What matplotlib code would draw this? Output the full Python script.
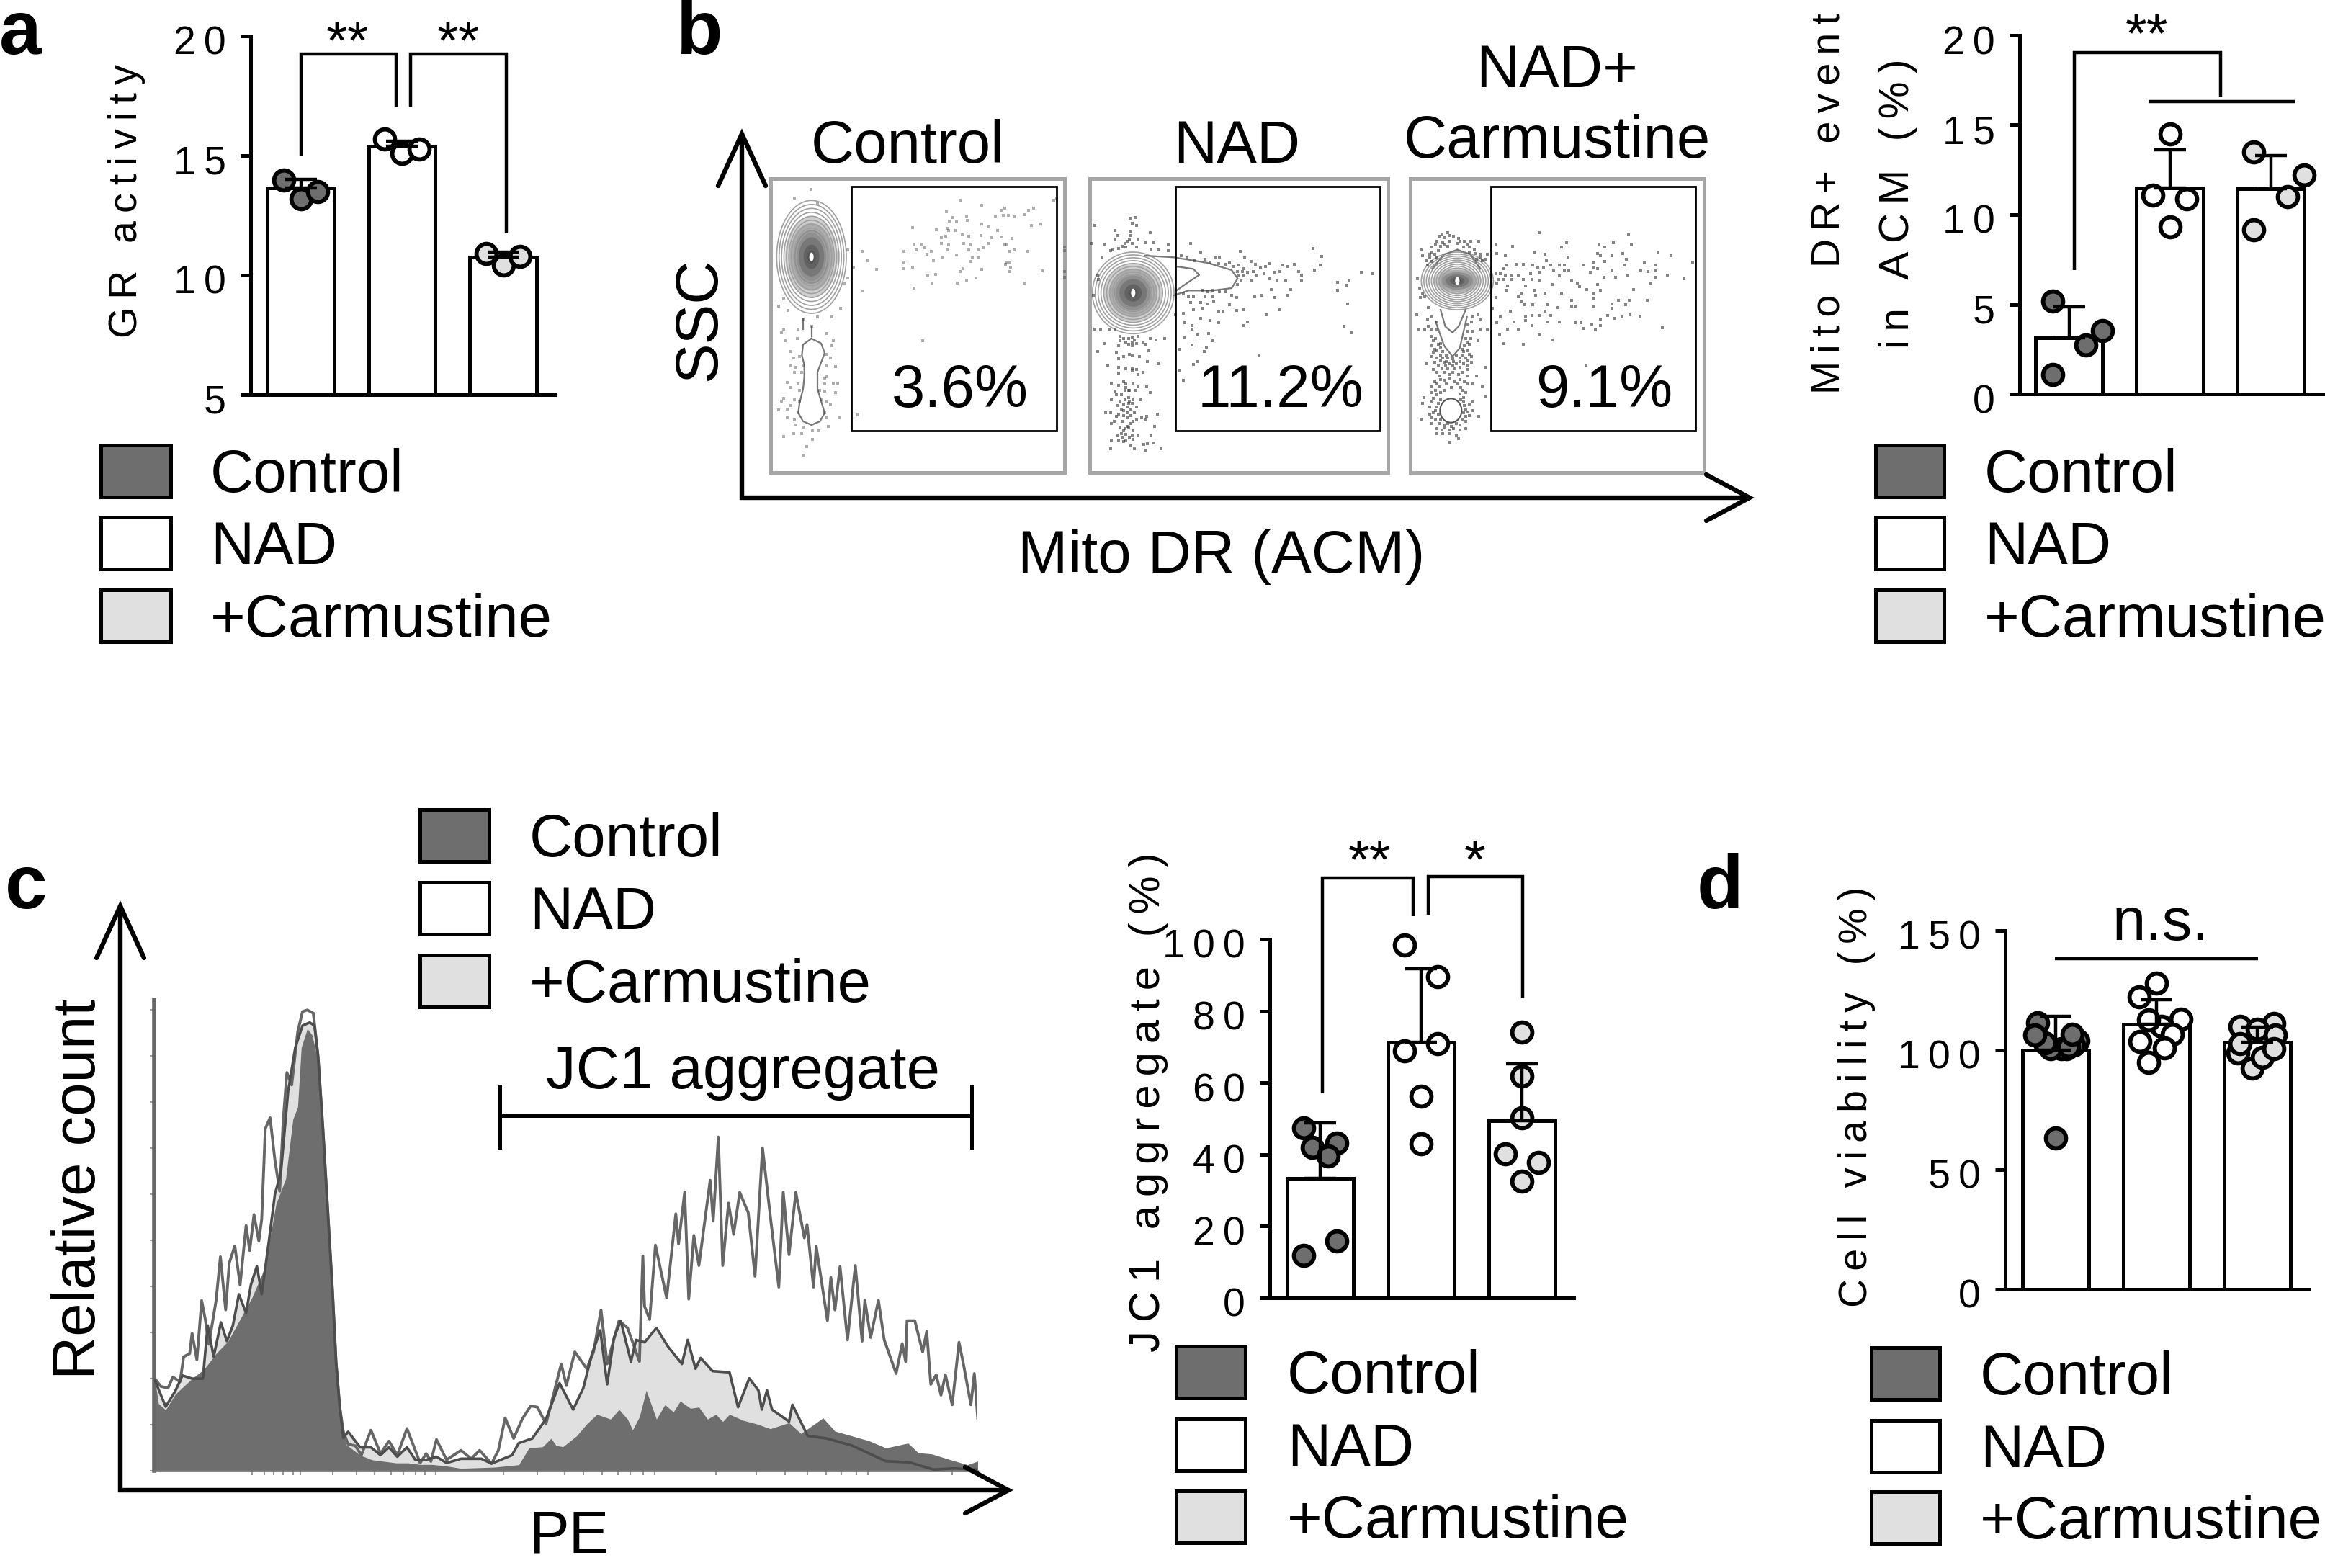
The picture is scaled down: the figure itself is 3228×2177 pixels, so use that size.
import numpy as np
import matplotlib
matplotlib.use('Agg')
import matplotlib.pyplot as plt
from matplotlib.patches import Ellipse, Rectangle
from matplotlib.transforms import ScaledTranslation

plt.rcParams['font.family'] = ['Liberation Sans', 'DejaVu Sans']

W, H = 3228, 2177
DARK, LIGHT = '#6e6e6e', '#e0e0e0'
GROUP_COLORS = [DARK, 'white', LIGHT]
LEGEND_LABELS = ['Control', 'NAD', '+Carmustine']

# panel a
a_means = [13.63, 15.4, 10.75]
a_tops = [14.0, 15.6, 10.96]
a_points = [[(-.17, 13.99), (0, 13.2), (.17, 13.5)],
            [(-.17, 15.68), (0, 15.1), (.17, 15.28)],
            [(-.17, 10.9), (0, 10.41), (.17, 10.78)]]
# panel b bars
b_means = [3.15, 11.47, 11.44]
b_tops = [4.87, 13.6, 13.3]
b_points = [[(-.16, 5.2), (.167, 2.73), (.33, 3.53), (-.16, 1.1)],
            [(0, 14.5), (-.17, 11.1), (.17, 10.9), (0, 9.3)],
            [(-.17, 13.5), (.33, 12.2), (.17, 11.0), (-.17, 9.15)]]
# panel c bars
c_means = [33.4, 71.3, 49.3]
c_tops = [48.7, 91.7, 65.2]
c_points = [[(-.164, 47.4), (.164, 43.2), (-.08, 42), (.08, 39.5), (.164, 15.8), (-.164, 11.9)],
            [(-.164, 98.4), (.164, 89.5), (.164, 70.9), (-.164, 68.9), (0, 56.3), (0, 42.9)],
            [(0, 74.1), (0, 61.9), (0, 50.2), (-.164, 40.2), (.164, 37.7), (0, 32.5)]]
# panel d
d_means = [99.9, 110.7, 103.2]
d_tops = [114.3, 121.2, 109.6]
d_points = [[(.22, 104), (.18, 102), (.11, 100.5), (.06, 100.7), (-.05, 100.7), (.125, 101.5), (-.11, 103),
             (-.18, 111.4), (-.21, 106.2), (.166, 106.7), (0, 63.2)],
            [(.05, 110), (0, 128), (-.17, 122.4), (.245, 113.1), (.16, 106.7), (.075, 100.9), (-.165, 103.6),
             (-.08, 94.9), (-.08, 112.8)],
            [(-.05, 92.6), (-.19, 98.7), (-.17, 109.9), (.166, 111), (0, 108.6), (.175, 106.2),
             (.05, 96.9), (-.17, 102.7), (.166, 100.7)]]

# flow plots, dots
flow1_dots = [(805,115),(895,135),(1195,115),(1205,105),(1110,148),(1090,155),(1070,175),(990,148),(975,155),
    (985,178),(950,180),(1005,178),(1030,183),(748,163),(830,180),(835,198),(775,185),(760,200),(790,205),(895,213),
    (925,225),(960,240),(1100,220),(1140,213),(605,228),(705,237),(750,230),(755,240),(785,240),(840,265),(812,258),
    (890,260),(935,270),(975,268),(1020,272),(725,270),(745,265),(612,300),(645,297),(725,295),(755,300),(820,295),
    (845,300),(925,295),(990,300),(1000,298),(620,320),(658,312),(750,320),(840,320),(880,320),(900,312),(1030,320),
    (1010,328),(1085,328),(397,328),(570,328),(685,328),(665,338),(730,350),(790,343),(855,355),(878,355),(420,365),
    (692,365),(850,370),(570,375),(605,393),(568,400),(455,403),(360,393),(1000,375),(1012,375),(992,380),(1015,392),
    (1010,412),(815,400),(805,410),(895,403),(1145,408),(668,430),(703,423),(870,437),(830,447),(688,463),(793,460),
    (1070,460),(612,480),(400,492),(648,698),(378,1008),(183,68),(115,105),(210,125),(1238,310),(1238,325),(1238,410),
    (1238,435),(335,320),(335,437),(323,463),(305,563),(70,525),(48,555),(88,573),(150,610),(210,600),(270,600),
    (185,640),(68,650),(60,665),(130,650),(75,700),(125,690),(250,668),(275,700),(270,720),(100,745),(110,770),
    (135,765),(250,755),(265,770),(100,805),(120,810),(150,800),(245,805),(285,808),(115,830),(145,830),(240,855),
    (250,850),(85,872),(130,880),(240,880),(275,875),(295,875),(100,895),(135,905),(220,905),(240,910),(285,915),
    (70,940),(115,945),(135,950),(225,945),(245,955),(60,950),(100,970),(265,965),(48,988),(85,985),(130,1000),
    (240,1000),(85,1020),(115,1030),(250,1020),(300,1020),(120,1050),(150,1060),(255,1055),(110,1085),(145,1085),
    (190,1075),(215,1075),(70,1097),(190,1110),(165,1140),(152,1178)]
flow2_dots = [(198,185),(178,190),(185,210),(205,218),(30,220),(115,240),(178,245),(262,248),(125,260),(180,262),
    (210,275),(115,275),(165,285),(185,295),(145,305),(240,292),(15,293),(68,300),(275,290),(335,300),(105,320),
    (130,315),(160,310),(205,310),(265,320),(295,320),(335,325),(60,350),(95,325),(42,430),(45,445),(25,510),(30,650),
    (55,655),(90,650),(115,655),(70,710),(42,745),(135,680),(185,685),(210,680),(285,695),(135,700),(160,705),(185,705),
    (205,710),(230,705),(260,690),(320,690),(130,720),(185,720),(240,715),(255,740),(120,750),(150,765),(175,755),
    (185,760),(215,765),(130,775),(250,785),(295,795),(85,800),(130,810),(160,815),(185,815),(205,820),(230,830),
    (130,835),(210,840),(150,870),(190,880),(210,890),(100,875),(130,885),(160,895),(245,890),(115,910),(155,905),
    (200,905),(260,915),(120,925),(170,935),(190,945),(220,945),(100,945),(135,950),(150,965),(170,960),(185,960),
    (125,970),(205,975),(140,985),(180,985),(75,1000),(95,1000),(130,1005),(150,1010),(180,1010),(225,1020),(245,1015),
    (290,1005),(110,1035),(145,1035),(205,1030),(240,1030),(100,1045),(165,1055),(150,1075),(140,1085),(170,1060),
    (190,1075),(280,1055),(125,1095),(185,1095),(210,1095),(265,1095),(100,1115),(130,1115),(160,1115),(190,1110),
    (235,1130),(180,1138),(250,1128),(275,1125),(95,1150),(195,1150),(240,1155),(305,1150),(430,293),(470,330),(635,328),
    (390,345),(415,355),(445,365),(490,360),(510,372),(530,355),(550,350),(545,378),(575,380),(590,375),(610,390),
    (630,385),(655,355),(650,400),(680,370),(700,380),(720,395),(740,390),(755,378),(625,410),(645,410),(665,415),
    (690,410),(705,425),(735,420),(760,440),(780,415),(800,410),(810,385),(835,390),(860,380),(880,410),(890,425),
    (630,430),(650,430),(640,450),(625,465),(680,450),(790,450),(825,450),(890,450),(765,485),(845,485),(940,315),
    (975,348),(970,385),(945,405),(1140,415),(1188,420),(1040,455),(1090,450),(1078,468),(1042,488),(1082,545),
    (1068,640),(1097,665),(800,570),(745,590),(400,505),(420,515),(440,515),(480,490),(500,495),(520,490),(550,495),
    (575,495),(600,510),(620,520),(490,515),(520,515),(430,540),(470,540),(500,545),(525,535),(590,550),(400,585),
    (440,570),(480,565),(565,575),(620,572),(650,570),(545,580),(365,590),(470,605),(510,615),(545,625),(405,625),
    (435,635),(435,650),(650,635),(665,620),(460,675),(505,670),(405,685),(520,700),(435,718),(495,725),(385,735),
    (485,745),(715,758),(455,785),(440,798),(385,825),(398,865),(695,515),(725,510),(780,520),(835,510),
    # thick parts of the lower cluster
    (160,880),(175,905),(140,925),(155,945),(175,950),(165,975),(150,990),(165,1000),(195,1000),(120,1015),(165,1020),
    (190,1035),(135,1060),(155,1065),(180,1045),(160,1090),(145,1100),(175,1105),(150,1120),(170,905),(185,825),(170,715),
    (195,695),(170,690),(150,690),(175,280),(155,295)]
flow3_dots = [(165,250),(130,265),(150,270),(190,265),(210,272),(120,285),(145,290),(170,285),(205,295),(235,285),
    (260,285),(295,285),(100,310),(135,305),(165,305),(230,310),(255,310),(55,320),(95,330),(125,325),(255,330),(280,335),
    (300,340),(60,345),(90,355),(120,350),(285,360),(310,365),(330,340),(100,370),(80,385),(40,440),(48,480),(60,505),
    (70,515),(50,520),(85,560),(35,590),(80,610),(100,600),(290,590),(270,600),(300,610),(45,655),(70,655),(85,640),
    (120,620),(95,650),(120,650),(250,630),(265,620),(250,660),(270,660),(300,650),(330,655),(95,680),(115,690),(135,710),
    (240,690),(260,690),(235,720),(100,720),(120,740),(145,745),(230,745),(250,740),(290,700),(95,765),(120,770),(145,770),
    (165,770),(185,775),(215,770),(240,770),(265,765),(75,795),(110,790),(150,790),(175,795),(200,795),(230,795),(265,790),
    (105,820),(140,815),(165,815),(195,815),(250,820),(320,810),(130,845),(170,840),(210,840),(250,845),(285,845),(110,870),
    (150,865),(195,870),(235,870),(270,880),(95,890),(130,890),(180,895),(220,895),(310,890),(100,915),(135,915),(215,920),
    (240,915),(320,930),(65,935),(105,940),(135,945),(220,945),(270,955),(60,960),(90,975),(120,975),(235,970),(270,990),
    (105,1000),(125,1005),(230,1000),(250,995),(55,1025),(100,1020),(135,1030),(225,1025),(295,1015),(100,1045),(130,1045),
    (165,1045),(200,1045),(240,1035),(120,1065),(150,1060),(190,1065),(240,1065),(120,1085),(170,1085),(200,1095),(210,1108),
    (175,1122),(545,250),(918,258),(660,290),(795,300),(855,290),(930,300),(365,300),(435,305),(820,310),(640,310),(525,330),
    (790,335),(800,345),(850,345),(895,335),(1040,330),(1095,345),(405,345),(570,340),(665,352),(910,360),(370,335),(1185,372),
    (985,372),(1030,385),(730,385),(900,385),(770,375),(820,370),(575,365),(595,385),(630,385),(650,385),(410,385),(450,380),
    (480,380),(520,385),(400,400),(540,395),(565,395),(605,405),(650,405),(670,405),(770,395),(790,400),(850,405),(970,405),
    (1000,412),(1030,405),(1080,425),(365,420),(385,420),(405,425),(430,430),(460,430),(510,420),(545,415),(630,430),(760,415),
    (815,435),(865,435),(915,425),(1030,435),(1150,442),(375,445),(400,445),(430,445),(480,445),(515,445),(550,450),(600,465),
    (680,450),(705,460),(790,465),(1010,460),(370,460),(415,470),(490,470),(715,475),(940,485),(410,490),(525,490),(570,500),
    (800,490),(745,485),(470,500),(640,500),(770,500),(365,520),(460,515),(530,510),(680,530),(770,525),(875,530),(920,530),
    (995,530),(470,535),(850,545),(905,550),(485,550),(520,550),(580,550),(625,560),(680,555),(695,555),(770,555),(850,565),
    (425,575),(570,575),(350,565),(830,595),(860,605),(890,600),(925,590),(965,600),(385,600),(490,600),(515,595),(545,595),
    (595,595),(630,620),(370,625),(440,620),(490,615),(580,620),(800,610),(695,625),(720,625),(765,630),(800,635),(515,635),
    (415,650),(460,650),(730,648),(780,655),(1060,645),(545,675),(380,675),(600,695),(400,712),(480,715),(740,800),
    # thick parts of the cone and the lower loop
    (140,255),(175,260),(115,300),(150,300),(215,285),(245,300),(275,320),(90,340),(75,365),(110,340),(300,355),(320,360),
    (105,700),(125,715),(110,735),(135,730),(245,705),(225,735),(255,715),(105,750),(135,760),(160,760),(200,760),(225,760),
    (255,755),(135,780),(160,785),(190,785),(215,785),(245,780),(125,800),(155,805),(185,805),(215,810),(245,805),(120,830),
    (150,830),(185,830),(225,830),(135,860),(170,855),(215,860),(120,880),(160,880),(205,880),(245,880),(115,905),(150,905),
    (225,905),(120,925),(230,935),(95,955),(125,960),(230,955),(255,965),(115,990),(240,985),(90,1005),(255,1010),(115,1030),
    (240,1015),(150,1050),(180,1055),(215,1050),(140,1070),(170,1070),(215,1070),(145,1085)]

# contour lines of the flow plots
flow1_lines = [[(185,690),(150,715),(145,760),(155,800),(155,850),(150,900),(135,960),(130,1000),(150,1035),(185,1050),
                (220,1035),(240,1000),(225,950),(210,900),(210,830),(225,790),(240,750),(225,710),(185,690)],
               [(150,610),(150,650)], [(185,640),(185,680)]]
flow2_lines = [[(240,345),(360,352),(500,375),(600,405),(625,440),(600,480),(520,490),(420,490),(360,510)],
               [(370,390),(440,400),(465,425),(420,455),(370,490)]]
flow3_lines = [[(135,570),(155,640),(185,665),(210,640),(240,570)],
               [(115,620),(150,720),(185,765),(215,730),(245,600)],
               [(205,320),(150,340),(100,400)], [(205,320),(260,340),(300,400)]]
# ring centres and half axes: cx, cy, half width, half height
flow1_ring = (185, 350, 145, 235)
flow2_ring = (190, 500, 170, 170)
flow3_ring = (205, 450, 150, 120)
ring_scales = [1, .93, .86, .79, .72, .65, .58, .51, .44]
# half axes of the dark middle of each plot
flow1_core = (110, 170)
flow2_core = (120, 120)
flow3_core = (100, 55)
density_scales = [1, .83, .66, .48, .3, .16]
density_grays = ['#cfcfcf', '#adadad', '#909090', '#787878', '#626262', '#555555']
flow3_low_ring = (178, 990, 45, 50)

left_x = [45,60,90,130,200,250,300,350,400,450,500,520,550,590,620,640,655,680,700,720,740,760,780,800,820,840,
          900,950,1000,1050,1100,1150,1200,1260]
left_control = [1230,1310,1330,1280,1230,1200,1150,1110,1040,970,880,800,670,590,400,360,170,110,130,200,420,620,
                900,1180,1340,1440,1475,1490,1495,1500,1500,1505,1505,1510]
left_nad_x = [45,70,100,120,150,165,190,200,220,240,255,270,300,318,340,355,378,400,425,440,458,478,490,505,525,545,
              565,580,595,615,640,660,680,705,725,745,765,785,800,815,830,850,880,905,945,985,1020,1055,1095,1130,
              1150,1175,1195,1218,1260]
left_nad = [1230,1255,1260,1225,1240,1160,1150,1085,1170,980,1040,1120,980,840,1010,860,805,930,740,820,705,790,720,
            430,395,530,630,400,250,290,120,55,50,60,200,430,690,950,1180,1320,1400,1440,1445,1475,1395,1470,1430,
            1475,1390,1460,1500,1470,1495,1425,1490]
left_carm_x = [45,90,130,160,200,245,265,290,320,345,370,395,425,445,470,490,520,545,570,600,630,660,690,710,725,745,
               765,785,800,815,830,850,900,945,985,1020,1055,1095,1130,1175,1218,1260]
left_carm = [1235,1320,1270,1220,1230,1230,1060,1160,1050,1110,1060,960,1020,930,870,960,790,640,570,310,170,100,90,
             100,200,430,690,950,1180,1320,1420,1400,1450,1450,1475,1450,1480,1450,1490,1490,1480,1500]
right_control_x = [0,100,170,200,240,265,280,300,340,370,400,440,465,490,505,525,545,575,600,625,645,675,700,725,750,
                   770,790,830,870,910,965,1000,1065,1100,1150,1200,1250,1315,1345,1385,1430,1490,1520]
right_control = [1435,1430,1420,1350,1345,1310,1340,1345,1300,1250,1210,1230,1190,1230,1275,1220,1110,1230,1170,1200,
                 1155,1185,1180,1230,1210,1240,1210,1235,1250,1270,1245,1290,1225,1280,1300,1320,1350,1330,1370,1375,
                 1395,1420,1405]
right_nad_x = [0,30,55,90,110,130,155,180,205,225,250,270,295,310,335,370,390,412,430,465,490,525,535,540,555,572,605,
               632,640,658,670,685,700,733,742,757,770,787,802,820,845,865,887,912,935,948,965,985,1010,1018,1037,1045,
               1078,1088,1100,1115,1137,1160,1180,1188,1205,1228,1245,1280,1298,1308,1312,1335,1358,1370,1382,1398,1412,
               1425,1445,1465,1478,1500,1510,1520]
right_nad = [1360,1395,1360,1415,1360,1225,1310,1230,1175,1180,1250,1140,1000,1090,950,1020,950,775,1000,820,850,990,550,
             760,815,505,725,375,500,285,730,465,590,235,405,55,590,330,460,285,370,635,100,410,680,285,545,285,475,420,
             680,510,820,640,775,595,900,590,905,735,890,735,900,1040,915,990,820,820,950,865,1085,1045,1130,1045,1170,
             910,1000,1170,1040,1225]
right_carm_x = [0,60,90,150,170,210,250,290,330,360,385,410,430,450,470,500,515,540,575,610,650,667,690,705,740,790,815,
                848,875,885,900,915,965,975,1020,1075,1150,1250,1320,1390,1450,1520]
right_carm = [1395,1395,1415,1380,1330,1310,1230,1080,1190,1100,960,860,1085,890,820,990,900,910,850,930,1000,900,1020,
              975,1030,1035,1180,1060,1110,1190,1110,1190,1240,1170,1300,1310,1340,1405,1410,1440,1435,1440]
hist_xticks = [350,367,380,393,407,417,462,495,520,543,560,577,590,605,699,746,784,810,836,858,875,893,909,994,1050,1090,
               1121,1147,1168,1189,1205,1322]

fig = plt.figure(figsize=(W / 100, H / 100), dpi=100, facecolor='white')


def add_px_axes(x0, y0, x1, y1, **kw):
    return fig.add_axes([x0 / W, 1 - y1 / H, (x1 - x0) / W, (y1 - y0) / H], **kw)


def spaced(s):
    return '\u2009'.join(s)


def bar_panel(box, ylim, ticks, c0, step, means, tops, points):
    x0, y0, x1, y1 = box
    ax = add_px_axes(x0, y0, x1, y1)
    ax.set_xlim((x0 - c0) / step, (x1 - c0) / step)
    ax.set_ylim(*ylim)
    ax.patch.set_alpha(0)
    for s in ['top', 'right']:
        ax.spines[s].set_visible(False)
    for s in ['left', 'bottom']:
        ax.spines[s].set_linewidth(3.6)
    for i in range(3):
        ax.bar(i, means[i] - ylim[0], bottom=ylim[0], width=.66, facecolor='white',
               edgecolor='black', linewidth=3.6, zorder=2)
        xs = [i + p[0] for p in points[i]]
        ys = [p[1] for p in points[i]]
        ax.scatter(xs, ys, s=400, facecolor=GROUP_COLORS[i], edgecolor='black',
                   linewidth=4.2, clip_on=False, zorder=3)
        ax.errorbar(i, means[i], yerr=[[0], [tops[i] - means[i]]], color='black', elinewidth=3.2,
                    capsize=16, capthick=3.2, clip_on=False, zorder=4)
    ax.set_xticks([])
    ax.set_yticks(ticks)
    ax.set_yticklabels([spaced(str(t)) for t in ticks], fontsize=40)
    ax.tick_params(axis='y', length=10, width=3.6, pad=14.5)
    shift = ScaledTranslation(0, -.06, fig.dpi_scale_trans)
    for lab in ax.get_yticklabels():
        lab.set_transform(lab.get_transform() + shift)
    return ax


def bracket(ax, xs, ys):
    ax.plot(xs, ys, color='black', lw=3.2, clip_on=False, solid_joinstyle='miter', solid_capstyle='butt', zorder=5)


def flow_panel(left, frame, gate, ring, core, dots, lines, label, label_x, dot_alpha):
    ax = add_px_axes(left, 240, left + 420, 660)
    ax.set_xlim(0, 1260)
    ax.set_ylim(1260, 0)
    ax.axis('off')
    ax.add_patch(Rectangle((frame[0], 25), frame[1] - frame[0], 1223, fc='white', ec='#a6a6a6', lw=3.6, zorder=1))
    cx, cy, hw, hh = ring
    for sc, g in zip(density_scales, density_grays):
        ax.add_patch(Ellipse((cx, cy), 2 * core[0] * sc, 2 * core[1] * sc, fc=g, ec='none', zorder=2))
    ax.add_patch(Ellipse((cx, cy), 18, 36, fc='white', ec='none', zorder=3))
    for sc in ring_scales:
        ax.add_patch(Ellipse((cx, cy), 2 * hw * sc, 2 * hh * sc, fc='none', ec='#a0a0a0', lw=1.2, zorder=3))
    for line in lines:
        pts = np.array(line)
        ax.plot(pts[:, 0], pts[:, 1], color='#777777', lw=1.6, zorder=3)
    pts = np.array(dots)
    ax.scatter(pts[:, 0], pts[:, 1], marker='s', s=10, color='#333333', alpha=dot_alpha, linewidth=0, zorder=4)
    ax.add_patch(Rectangle((gate[0], 57), gate[1] - gate[0], 1018, fc='none', ec='black', lw=2, zorder=5))
    ax.text(label_x, 908, label, fontsize=60, ha='center', va='center', zorder=6)
    return ax


# bar panels
ax_a = bar_panel((348, 50, 770, 548), (5, 20), [5, 10, 15, 20], 417.5, 140.5, a_means, a_tops, a_points)
bracket(ax_a, [0, 0, .943, .943], [15, 19.25, 19.25, 17.06])
bracket(ax_a, [1.086, 1.086, 2.03, 2.03], [17.06, 19.25, 19.25, 11.76])

ax_b = bar_panel((2804, 49, 3226, 547), (0, 20), [0, 5, 10, 15, 20], 2872.5, 140, b_means, b_tops, b_points)
bracket(ax_b, [.05, .05, 1.5, 1.5], [6.9, 19.05, 19.05, 16.55])
bracket(ax_b, [.79, 2.24], [16.3, 16.3])

ax_c = bar_panel((1763, 1304, 2185, 1802), (0, 100), [0, 20, 40, 60, 80, 100], 1833, 140, c_means, c_tops, c_points)
bracket(ax_c, [.02, .02, .92, .92], [57, 117, 117, 106.5])
bracket(ax_c, [1.07, 1.07, 2.01, 2.01], [106.9, 117.5, 117.5, 83.6])

ax_d = bar_panel((2784, 1292, 3205, 1790), (0, 150), [0, 50, 100, 150], 2854, 140, d_means, d_tops, d_points)
bracket(ax_d, [-.01, 2.01], [138.4, 138.4])

# flow plots
flow_panel(1065, (15, 1240), (352, 1205), flow1_ring, flow1_core, flow1_dots, flow1_lines, '3.6%', 805, .4)
flow_panel(1510, (8, 1255), (365, 1217), flow2_ring, flow2_core, flow2_dots, flow2_lines, '11.2%', 803, .6)
ax3 = flow_panel(1955, (8, 1232), (345, 1197), flow3_ring, flow3_core, flow3_dots, flow3_lines, '9.1%', 817, .6)
ax3.add_patch(Ellipse(flow3_low_ring[:2], 2 * flow3_low_ring[2], 2 * flow3_low_ring[3], fc='white', ec='#555555', lw=1.5, zorder=5))

# histogram
ax_h = add_px_axes(214, 1388, 1357, 2042)
ax_h.set_xlim(214, 1357)
ax_h.set_ylim(0, 654)


def left_to_axis(xs, ys):
    return 200 + np.array(xs) / 3, (1525 - np.array(ys)) * .4337


def right_to_axis(xs, ys):
    return 640 + np.array(xs) * .472, (1445 - np.array(ys)) / 3


def join_series(lx, ly, rx, ry):
    x1, y1 = left_to_axis(lx, ly)
    x2, y2 = right_to_axis(rx, ry)
    return np.r_[x1, x2], np.r_[y1, y2]


ctrl_x, ctrl_y = join_series(left_x, left_control, right_control_x, right_control)
nad_x, nad_y = join_series(left_nad_x, left_nad, right_nad_x, right_nad)
carm_x, carm_y = join_series(left_carm_x, left_carm, right_carm_x, right_carm)
ax_h.fill_between(carm_x, 0, carm_y, color=LIGHT, linewidth=0, zorder=1)
ax_h.plot(nad_x, nad_y, color='#666666', lw=2.8, zorder=3)
ax_h.plot(carm_x, carm_y, color='#4d4d4d', lw=2.6, zorder=3)
ax_h.fill_between(ctrl_x, 0, ctrl_y, color=DARK, linewidth=0, zorder=2)
for s in ['top', 'right']:
    ax_h.spines[s].set_visible(False)
ax_h.spines['left'].set_linewidth(4)
ax_h.spines['left'].set_color('#666666')
ax_h.spines['bottom'].set_linewidth(2)
ax_h.spines['bottom'].set_color('#777777')
ax_h.set_xticks(hist_xticks)
ax_h.set_yticks(np.arange(0, 654, 64))
ax_h.set_xticklabels([])
ax_h.set_yticklabels([])
ax_h.tick_params(color='#999999', length=4, width=1.5)

# overlay in picture pixels for arrows, legends and words
ov = fig.add_axes([0, 0, 1, 1], zorder=20)
ov.set_xlim(0, W)
ov.set_ylim(H, 0)
ov.axis('off')


def arrow_lines(corner, top, right, lw=4.6):
    x, y = corner
    kw = dict(color='black', lw=lw, solid_capstyle='round', solid_joinstyle='miter')
    ov.plot([x, x, right], [top, y, y], **kw)
    ov.plot([x - 33, x, x + 33], [top + 72, top, top + 72], **kw)
    ov.plot([right - 60, right, right - 60], [y - 32, y, y + 32], **kw)


arrow_lines((1030, 691), 186, 2429)
arrow_lines((167, 2069), 1258, 1400)
ov.plot([694, 1349], [1549, 1549], color='black', lw=3.6)
ov.plot([694, 694], [1508, 1593], color='black', lw=3.6)
ov.plot([1349, 1349], [1508, 1593], color='black', lw=3.6)


def legend_block(x0, x1, tops, tx):
    for y, c, lab in zip(tops, GROUP_COLORS, LEGEND_LABELS):
        ov.add_patch(Rectangle((x0, y), x1 - x0, 72, fc=c, ec='black', lw=3.6))
        ov.text(tx, y + 43, lab, fontsize=60, va='center', ha='left')


legend_block(140, 237, [618, 718, 819], 292)
legend_block(2604, 2699, [618, 718, 819], 2755)
legend_block(583, 679, [1124, 1225, 1326], 735)
legend_block(1633, 1729, [1869, 1970, 2070], 1787)
legend_block(2598, 2693, [1871, 1972, 2071], 2749)

for x, y, s in [(28, 48, 'a'), (970, 48, 'b'), (36, 1233, 'c'), (2388, 1233, 'd')]:
    ov.text(x, y, s, fontsize=76, fontweight='bold', ha='center', va='center')

for x, y, s in [(483, 62, '**'), (637, 62, '**'), (2981, 52, '**'), (1902, 1199, '**'), (2048, 1199, '*')]:
    ov.text(x, y, s, fontsize=55, ha='center', va='center')
ov.text(3000, 1283, 'n.s.', fontsize=60, ha='center', va='center')

ov.text(1260, 204, 'Control', fontsize=60, ha='center', va='center')
ov.text(1717, 204, 'NAD', fontsize=60, ha='center', va='center')
ov.text(2162, 99, 'NAD+', fontsize=60, ha='center', va='center')
ov.text(2162, 197, 'Carmustine', fontsize=60, ha='center', va='center')
ov.text(971, 443, 'SSC', fontsize=60, rotation=90, ha='center', va='center')
ov.text(1696, 773, 'Mito DR (ACM)', fontsize=60, ha='center', va='center')
ov.text(110, 1651, 'Relative count', fontsize=60, rotation=90, ha='center', va='center')
ov.text(790, 2155, 'PE', fontsize=60, ha='center', va='baseline')
ov.text(1031, 1489, 'JC1 aggregate', fontsize=60, ha='center', va='center')

ov.text(176, 279, spaced('GR activity'), fontsize=40, rotation=90, ha='center', va='center')
ov.text(2540, 547, spaced('Mito DR+ event'), fontsize=40, rotation=90, ha='center', va='bottom')
ov.text(2635, 283, spaced('in ACM (%)'), fontsize=42, rotation=90, ha='center', va='center')
ov.text(1594, 1530, spaced('JC1 aggregate (%)'), fontsize=43, rotation=90, ha='center', va='center')
ov.text(2578, 1523, spaced('Cell viability (%)'), fontsize=40, rotation=90, ha='center', va='center')

fig.savefig('out.png', dpi=100)
